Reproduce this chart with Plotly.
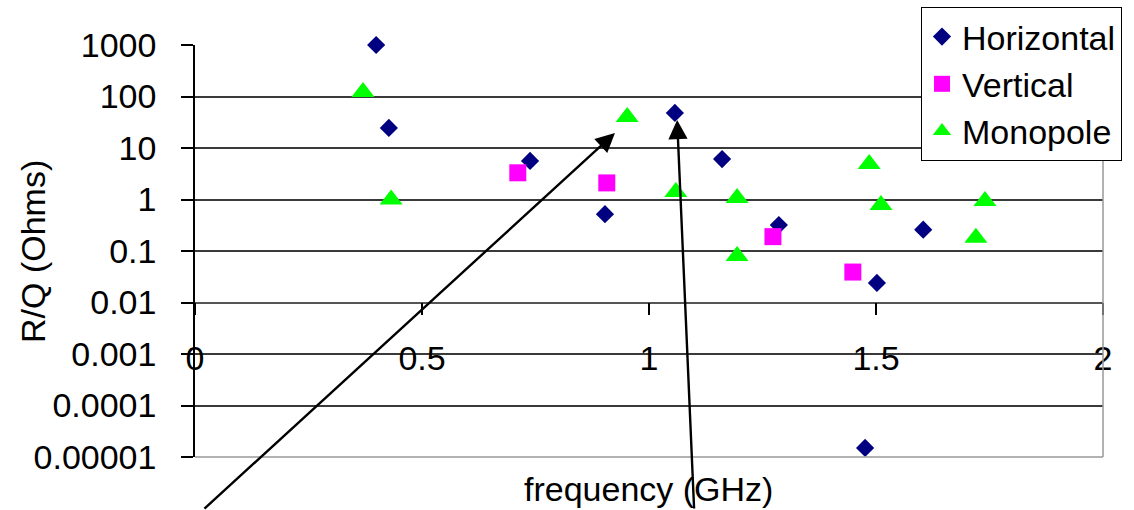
import plotly.graph_objects as go

# ---- data ----
horiz_f = [0.399, 0.427, 0.738, 0.903, 1.057, 1.161, 1.286, 1.502, 1.604, 1.476]
horiz_rq = [1000, 24.5, 5.6, 0.52, 48, 6.1, 0.32, 0.024, 0.26, 0.000015]

vert_f = [0.711, 0.907, 1.273, 1.449]
vert_rq = [3.3, 2.1, 0.19, 0.039]

mono_f = [0.370, 0.432, 0.952, 1.059, 1.194, 1.194, 1.485, 1.511, 1.720, 1.740]
mono_rq = [122, 1.0, 40, 1.4, 1.07, 0.08, 4.9, 0.78, 0.18, 0.93]

y_tickvals = [1e-5, 1e-4, 1e-3, 1e-2, 1e-1, 1, 10, 100, 1000]
y_ticktext = ["0.00001", "0.0001", "0.001", "0.01", "0.1", "1", "10", "100", "1000"]
x_tickvals = [0, 0.5, 1, 1.5, 2]
x_ticktext = ["0", "0.5", "1", "1.5", "2"]

FONT = "Liberation Sans, Arial, sans-serif"
FS = 34

fig = go.Figure()
fig.add_trace(go.Scatter(x=horiz_f, y=horiz_rq, mode="markers", name="Horizontal",
                         legendgroup="h", cliponaxis=False,
                         marker=dict(symbol="diamond", size=14, color="#000080")))
fig.add_trace(go.Scatter(x=vert_f, y=vert_rq, mode="markers", name="Vertical",
                         legendgroup="v", cliponaxis=False,
                         marker=dict(symbol="square", size=17, color="#FF00FF")))
fig.add_trace(go.Scatter(x=mono_f, y=mono_rq, mode="markers", name="Monopole",
                         legendgroup="m", cliponaxis=False,
                         marker=dict(symbol="triangle-up", size=20, color="#00FF00")))

L, R, T, B = 195, 31, 45, 53
W, H = 1134, 510
pw = W - L - R
ph = H - T - B

fig.update_layout(
    width=W, height=H,
    margin=dict(l=L, r=R, t=T, b=B, autoexpand=False),
    paper_bgcolor="white",
    plot_bgcolor="white",
    font=dict(family=FONT, size=FS, color="black"),
    showlegend=True,
    legend=dict(x=(921 - L) / pw, y=(H - B - 7) / ph, xanchor="left", yanchor="top",
                bgcolor="white", bordercolor="black", borderwidth=1,
                font=dict(family=FONT, size=FS, color="black"),
                tracegroupgap=0, itemwidth=30),
    xaxis=dict(
        range=[0, 2],
        anchor="free", position=3 / 8,
        tickvals=x_tickvals, ticktext=x_ticktext,
        ticks="outside", ticklen=12, tickwidth=1.5, tickcolor="black",
        ticklabelstandoff=14,
        showgrid=False, zeroline=False,
        showline=True, linecolor="#555555", linewidth=1.5,
        tickfont=dict(family=FONT, size=FS, color="black"),
    ),
    yaxis=dict(
        type="log", range=[-5, 3],
        tickvals=y_tickvals, ticktext=y_ticktext,
        ticks="outside", ticklen=12, tickwidth=1.5, tickcolor="black",
        ticklabelstandoff=18,
        showgrid=True, gridcolor="#3a3a3a", gridwidth=1.6,
        zeroline=False,
        showline=True, linecolor="black", linewidth=1.5,
        tickfont=dict(family=FONT, size=FS, color="black"),
    ),
)

# right and bottom plot border (gray)
fig.add_shape(type="line", xref="paper", yref="paper", x0=1, x1=1, y0=0, y1=1,
              line=dict(color="#999999", width=1.5))
fig.add_shape(type="line", xref="paper", yref="paper", x0=0, x1=1, y0=0, y1=0,
              line=dict(color="#999999", width=1.5))

# axis titles
fig.add_annotation(text="frequency (GHz)", xref="paper", yref="paper",
                   x=(648 - L) / pw, y=(H - B - 489) / ph, showarrow=False,
                   xanchor="center", yanchor="middle",
                   font=dict(family=FONT, size=FS, color="black"))
fig.add_annotation(text="R/Q (Ohms)", xref="paper", yref="paper",
                   x=(33 - L) / pw, y=(H - B - 252) / ph, showarrow=False,
                   textangle=-90, xanchor="center", yanchor="middle",
                   font=dict(family=FONT, size=FS, color="black"))

# arrows
fig.add_annotation(x=0.925, y=1.291, xref="x", yref="y", text="", showarrow=True,
                   ax=-412, ay=379, axref="pixel", ayref="pixel",
                   arrowhead=2, arrowsize=1.6, arrowwidth=2.4, arrowcolor="black")
fig.add_annotation(x=1.062, y=1.544, xref="x", yref="y", text="", showarrow=True,
                   ax=17, ay=392, axref="pixel", ayref="pixel",
                   arrowhead=2, arrowsize=1.6, arrowwidth=2.4, arrowcolor="black")

fig.write_html("out.html",
               config={"displayModeBar": False},
               post_script="document.body.style.margin='0px';document.body.style.overflow='hidden';")
